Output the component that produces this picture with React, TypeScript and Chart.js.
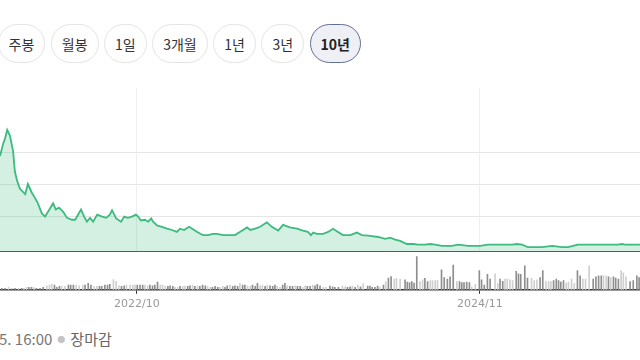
import { useEffect, useRef } from "react";
import { Chart, registerables } from "chart.js";

Chart.register(...registerables);

// ---- content ----
const periods = ["주봉", "월봉", "1일", "3개월", "1년", "3년", "10년"];
const selectedPeriod = "10년";
const statusTime = "5. 16:00";
const statusText = "장마감";

// ---- time axis (days since 2021-12-01) ----
const baseDate = Date.UTC(2021, 11, 1);
const viewDays = 1422;
const tickLabels = ["2022/10", "2024/11"];
const tickDays = tickLabels.map((t) => {
  const [y, m] = t.split("/").map(Number);
  return (Date.UTC(y, m - 1, 1) - baseDate) / 86400000;
});

// ---- price ----
const priceMin = 9450;
const priceMax = 35150;
const priceGridValues = [15000, 20000, 25000];

const priceDay = [
  0, 7, 11, 16, 22, 29, 33, 38, 44, 56, 62, 71, 78, 84, 93, 100, 107, 118, 124, 131,
  140, 149, 160, 167, 180, 187, 193, 200, 207, 216, 227, 236, 244, 249, 258, 269, 276, 284, 293, 302,
  307, 313, 322, 329, 336, 340, 349, 360, 371, 382, 393, 400, 409, 420, 427, 440, 451, 462, 473, 482,
  496, 522, 533, 549, 556, 567, 578, 593, 604, 618, 629, 644, 660, 673, 684, 691, 696, 704, 718, 729,
  740, 751, 762, 778, 793, 804, 818, 840, 856, 867, 878, 889, 904, 918, 929, 944, 956, 967, 982, 1004,
  1018, 1040, 1067, 1084, 1100, 1122, 1138, 1149, 1160, 1173, 1204, 1227, 1249, 1262, 1284, 1351, 1373, 1382, 1389, 1422,
];
const priceValue = [
  24500, 26400, 27200, 28600, 27700, 25300, 22100, 20600, 19400, 18500, 20100, 18700, 17900, 17100, 15500, 15000, 15800, 17100, 16100, 16400,
  15800, 14800, 14500, 14500, 16100, 15000, 14200, 14800, 14200, 15300, 15000, 14800, 15300, 16000, 14700, 14200, 15000, 14800, 15000, 15300,
  15000, 14400, 14500, 14200, 14700, 14200, 13600, 13400, 13100, 12900, 12600, 13100, 12900, 13400, 13100, 12500, 12100, 12100, 12300, 12300,
  12100, 12100, 12600, 13300, 12900, 13100, 13400, 14100, 13400, 12800, 13700, 13300, 13100, 12800, 12600, 12100, 12500, 12300, 12300, 12600,
  13100, 12600, 12100, 12100, 12500, 12100, 12000, 11800, 11500, 11700, 11400, 11200, 10700, 10700, 10600, 10600, 10700, 10600, 10400, 10400,
  10600, 10400, 10400, 10600, 10600, 10600, 10600, 10700, 10600, 10200, 10200, 10400, 10200, 10200, 10600, 10600, 10600, 10700, 10600, 10600,
];

// ---- volume (thousand shares), by day; tone: d = darker bar, l = lighter bar ----
const volumeMax = 420;
const volumeDay = [
  4, 11, 19, 26, 33, 41, 48, 53, 59, 64, 70, 76, 81, 89, 96, 104, 110, 115, 121, 126,
  132, 137, 144, 152, 157, 163, 169, 176, 184, 189, 196, 202, 209, 215, 221, 226, 233, 239, 244, 252,
  258, 264, 270, 276, 281, 289, 295, 300, 305, 311, 317, 322, 328, 333, 339, 344, 350, 356, 361, 367,
  373, 378, 384, 389, 395, 400, 406, 411, 417, 422, 428, 433, 439, 444, 450, 456, 461, 467, 472, 478,
  484, 489, 495, 500, 505, 511, 517, 522, 528, 533, 539, 544, 550, 556, 561, 567, 572, 578, 583, 589,
  594, 600, 606, 611, 616, 622, 628, 633, 638, 644, 650, 656, 661, 667, 673, 678, 683, 689, 695, 700,
  705, 711,
  718, 724, 733, 739, 744, 752, 761, 767, 772, 778, 783, 789, 795, 801, 807, 817, 822, 827, 833, 839,
  844, 852, 857, 863, 869, 876, 881, 889, 900, 905, 910, 915, 920, 926, 933, 939, 944, 950, 956, 961,
  967, 972, 981, 987, 994, 1000, 1007, 1015, 1021, 1026, 1031, 1037, 1043, 1048, 1056, 1065, 1070, 1076, 1083, 1089,
  1100, 1106, 1111, 1117, 1122, 1127, 1133, 1139, 1147, 1152, 1157, 1166, 1172, 1181, 1187, 1193, 1200, 1206, 1213, 1219,
  1224, 1230, 1236, 1241, 1246, 1252, 1258, 1263, 1270, 1276, 1283, 1289, 1295, 1301, 1309, 1318, 1324, 1330, 1336, 1341,
  1347, 1352, 1357, 1363, 1368, 1374, 1380, 1385, 1391, 1400, 1407, 1415, 1420,
];
const volumeValue = [
  17, 17, 27, 10, 17, 17, 17, 17, 27, 27, 27, 23, 17, 17, 27, 43, 50, 60, 50, 27,
  37, 37, 37, 50, 50, 50, 50, 43, 50, 50, 70, 50, 37, 37, 37, 37, 50, 50, 60, 110,
  93, 43, 37, 43, 50, 50, 50, 50, 50, 50, 50, 50, 43, 50, 43, 50, 83, 50, 50, 37,
  37, 43, 37, 27, 27, 37, 37, 37, 37, 43, 50, 37, 43, 37, 50, 43, 37, 27, 27, 37,
  27, 27, 37, 27, 43, 50, 37, 43, 37, 70, 50, 50, 43, 37, 50, 37, 70, 43, 50, 37,
  50, 43, 37, 50, 37, 27, 50, 70, 43, 37, 37, 43, 37, 37, 27, 43, 37, 37, 50, 43,
  60, 43,
  27, 27, 40, 33, 27, 27, 40, 33, 27, 33, 40, 27, 50, 33, 67, 40, 40, 27, 27, 40,
  27, 50, 90, 127, 143, 117, 123, 117, 107, 83, 77, 90, 73, 360, 90, 107, 123, 90, 100, 100,
  100, 100, 217, 133, 117, 140, 267, 90, 90, 77, 77, 83, 77, 33, 60, 207, 107, 50, 167, 117,
  173, 67, 117, 93, 117, 117, 107, 100, 200, 173, 167, 260, 127, 123, 100, 107, 133, 207, 90, 90,
  90, 100, 117, 100, 83, 100, 73, 83, 117, 67, 207, 150, 117, 117, 260, 117, 140, 150, 150, 150,
  150, 140, 133, 140, 127, 117, 207, 183, 140, 90, 100, 150, 133,
];
const volumeTone =
  "ddlddldlld" + "dldddllldd" + "dlldddllld" + "ddlldddddl" + "llddlllldd" + "dllddddlll" +
  "dddlldlldd" + "ldldddlldd" + "dllddldddl" + "ddlldddlld" + "ldddllddld" + "dlddllddld" + "dd" +
  "llddddlldd" + "ldldlddddd" + "ldlddllldd" + "ddddllddll" + "lldddddldd" + "dddllddddd" +
  "llddlllldd" + "dddlllddll" + "ldddddllll" + "ddlllddddl" + "ldldddllld" + "ddd";

function PriceChart() {
  const ref = useRef<HTMLCanvasElement>(null);
  useEffect(() => {
    const chart = new Chart(ref.current!, {
      type: "line",
      data: {
        datasets: [
          {
            data: priceDay.map((d, i) => ({ x: d, y: priceValue[i] })),
            borderColor: "#3dba7e",
            backgroundColor: "rgba(61,186,126,0.22)",
            fill: "start",
            borderWidth: 1.8,
            pointRadius: 0,
            tension: 0,
          },
        ],
      },
      options: {
        responsive: false,
        animation: false,
        layout: { padding: 0 },
        plugins: { legend: { display: false }, tooltip: { enabled: false } },
        scales: {
          x: {
            type: "linear",
            min: 0,
            max: viewDays,
            afterBuildTicks: (s: any) => {
              s.ticks = tickDays.map((v) => ({ value: v }));
            },
            ticks: { display: false },
            grid: { color: "#efefef", drawTicks: false },
            border: { display: true, color: "#4d4d4d", width: 2 },
          },
          y: {
            min: priceMin,
            max: priceMax,
            afterBuildTicks: (s: any) => {
              s.ticks = priceGridValues.map((v) => ({ value: v }));
            },
            ticks: { display: false },
            grid: { color: "#e6e6e6", drawTicks: false },
            border: { display: false },
          },
        },
      },
    });
    return () => chart.destroy();
  }, []);
  return <canvas ref={ref} width={640} height={164} style={{ position: "absolute", left: 0, top: 88 }} />;
}

function VolumeChart() {
  const ref = useRef<HTMLCanvasElement>(null);
  useEffect(() => {
    const chart = new Chart(ref.current!, {
      type: "bar",
      data: {
        datasets: [
          {
            data: volumeDay.map((d, i) => ({ x: d, y: volumeValue[i] })),
            backgroundColor: volumeDay.map((_, i) => (volumeTone[i] === "l" ? "#cfcfcf" : "#8e8e8e")),
            barThickness: 1,
          },
        ],
      },
      options: {
        responsive: false,
        animation: false,
        layout: { padding: 0 },
        plugins: { legend: { display: false }, tooltip: { enabled: false } },
        scales: {
          x: {
            type: "linear",
            position: "bottom",
            min: 0,
            max: viewDays,
            offset: false,
            afterBuildTicks: (s: any) => {
              s.ticks = tickDays.map((v) => ({ value: v }));
            },
            ticks: {
              callback: (v: any) => tickLabels[tickDays.indexOf(Number(v))] ?? "",
              color: "#999999",
              font: { size: 11, family: "'DejaVu Sans', sans-serif" },
              padding: 4,
              maxRotation: 0,
              autoSkip: false,
            },
            grid: { offset: false, drawOnChartArea: false, drawTicks: true, tickLength: 4, color: "#333333" },
            border: { display: true, color: "#3a3a3a", width: 1.5 },
          },
          y: { display: false, min: 0, max: volumeMax },
        },
      },
    });
    return () => chart.destroy();
  }, []);
  return <canvas ref={ref} width={640} height={64} style={{ position: "absolute", left: 0, top: 251 }} />;
}

export default function App() {
  return (
    <div
      style={{
        position: "absolute",
        left: 0,
        top: 0,
        width: 640,
        height: 360,
        overflow: "hidden",
        background: "#ffffff",
        fontFamily: "'Noto Sans CJK KR', 'Noto Sans', sans-serif",
      }}
    >
      <div style={{ position: "absolute", left: -2.5, top: 24, display: "flex", gap: 5.5 }}>
        {periods.map((p) => {
          const sel = p === selectedPeriod;
          return (
            <div
              key={p}
              style={{
                height: 39,
                boxSizing: "border-box",
                padding: "0 10px",
                borderRadius: 20,
                border: sel ? "1.5px solid #637190" : "1px solid #e4e4e4",
                background: sel ? "#eef0f5" : "#ffffff",
                display: "flex",
                alignItems: "center",
                fontSize: 14,
                fontWeight: sel ? 700 : 400,
                color: sel ? "#222" : "#333",
                whiteSpace: "nowrap",
              }}
            >
              {p}
            </div>
          );
        })}
      </div>
      <PriceChart />
      <VolumeChart />
      <div
        style={{
          position: "absolute",
          left: -1,
          top: 329,
          fontSize: 15,
          color: "#777",
          whiteSpace: "nowrap",
          lineHeight: "20px",
        }}
      >
        {statusTime}
        <span style={{ color: "#c4c4c4", margin: "0 5px", fontSize: 8, verticalAlign: "2px" }}>●</span>
        <span style={{ color: "#666" }}>{statusText}</span>
      </div>
    </div>
  );
}
